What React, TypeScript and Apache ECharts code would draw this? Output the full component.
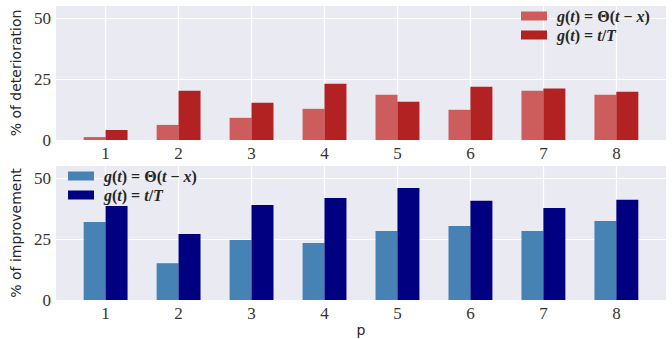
import React, { useEffect, useRef } from "react";
import * as echarts from "echarts";

const categories = [1, 2, 3, 4, 5, 6, 7, 8];
const deteriorationStep = [1.2, 6.2, 9.1, 12.8, 18.6, 12.4, 20.2, 18.6];
const deteriorationLinear = [4.1, 20.2, 15.3, 23.1, 15.7, 21.9, 21.1, 19.8];
const improvementStep = [32.0, 15.1, 24.6, 23.4, 28.3, 30.4, 28.3, 32.4];
const improvementLinear = [38.6, 27.1, 39.0, 41.9, 46.0, 40.7, 37.8, 41.1];
const yTicks = [0, 25, 50];

const NAME_STEP = "g(t) = Θ(t − x)";
const NAME_LIN = "g(t) = t/T";
const OFFSET = 0.15;

export default function App() {
  const ref = useRef<HTMLDivElement>(null);
  useEffect(() => {
    if (!ref.current) return;
    const chart = echarts.init(ref.current, null, { renderer: "svg" });
    const tickFont = {
      fontFamily: "Liberation Serif",
      fontSize: 17,
      color: "#333333",
    };
    const legendRich = {
      s: { width: 5, lineHeight: 16 },
      i: { fontFamily: "Liberation Serif", fontStyle: "italic", fontWeight: "bold", fontSize: 16, lineHeight: 16, color: "#262626" },
      n: { fontFamily: "Liberation Serif", fontWeight: "bold", fontSize: 16, lineHeight: 16, color: "#262626" },
    };
    const legendFormatter = (name: string) =>
      name === NAME_STEP
        ? "{s| }{i|g}{n|(}{i|t}{n|) = Θ(}{i|t}{n| − }{i|x}{n|)}"
        : "{s| }{i|g}{n|(}{i|t}{n|) = }{i|t}{n|/}{i|T}";
    const xAxisBase = (gridIndex: number, withName: boolean) => ({
      type: "value",
      gridIndex,
      min: 0.32,
      max: 8.68,
      name: withName ? "p" : "",
      nameLocation: "middle",
      nameGap: 22,
      nameTextStyle: { fontFamily: "DejaVu Sans", fontSize: 14, color: "#262626" },
      axisLine: { show: false },
      axisTick: { show: false, customValues: categories },
      axisLabel: { ...tickFont, margin: 5, customValues: categories },
      splitLine: { show: true, lineStyle: { color: "#ffffff", width: 1.2 } },
    });
    const yAxisBase = (gridIndex: number, name: string) => ({
      type: "value",
      gridIndex,
      min: 0,
      max: 55,
      name,
      nameLocation: "middle",
      nameGap: 33,
      nameTextStyle: { fontFamily: "DejaVu Sans", fontSize: 14, color: "#262626" },
      axisLine: { show: false },
      axisTick: { show: false, customValues: yTicks },
      axisLabel: { ...tickFont, margin: 5, customValues: yTicks },
      splitLine: { show: true, lineStyle: { color: "#ffffff", width: 1.2 } },
    });
    const toData = (vals: number[], off: number) =>
      categories.map((c, i) => [c + off, vals[i]]);
    const bar = (name: string, xi: number, vals: number[], off: number, color: string) => ({
      type: "bar",
      name,
      xAxisIndex: xi,
      yAxisIndex: xi,
      data: toData(vals, off),
      barWidth: 22,
      barGap: "-100%",
      itemStyle: { color },
    });
    const gridBase = {
      left: 56,
      right: 6,
      height: 134,
      backgroundColor: "#EAEAF2",
      show: true,
      borderWidth: 0,
      containLabel: false,
      outerBoundsMode: "none",
    };
    const legendBase = {
      orient: "vertical",
      padding: 0,
      itemWidth: 26,
      itemHeight: 9,
      itemGap: 3,
      icon: "rect",
      selectedMode: false,
      formatter: legendFormatter,
      textStyle: { rich: legendRich },
    };
    chart.setOption({
      animation: false,
      grid: [
        { ...gridBase, top: 6 },
        { ...gridBase, top: 166 },
      ],
      xAxis: [xAxisBase(0, false), xAxisBase(1, true)],
      yAxis: [yAxisBase(0, "% of deterioration"), yAxisBase(1, "% of improvement")],
      legend: [
        {
          ...legendBase,
          left: 521,
          top: 8,
          data: [
            { name: NAME_STEP, itemStyle: { color: "#CD5C5C" } },
            { name: NAME_LIN, itemStyle: { color: "#B22222" } },
          ],
        },
        {
          ...legendBase,
          left: 68,
          top: 168,
          data: [
            { name: NAME_STEP, itemStyle: { color: "#4682B4" } },
            { name: NAME_LIN, itemStyle: { color: "#000080" } },
          ],
        },
      ],
      series: [
        bar(NAME_STEP, 0, deteriorationStep, -OFFSET, "#CD5C5C"),
        bar(NAME_LIN, 0, deteriorationLinear, OFFSET, "#B22222"),
        bar(NAME_STEP, 1, improvementStep, -OFFSET, "#4682B4"),
        bar(NAME_LIN, 1, improvementLinear, OFFSET, "#000080"),
      ],
    });
    return () => chart.dispose();
  }, []);
  return <div ref={ref} style={{ width: 672, height: 339, position: "absolute", left: 0, top: 0 }} />;
}
